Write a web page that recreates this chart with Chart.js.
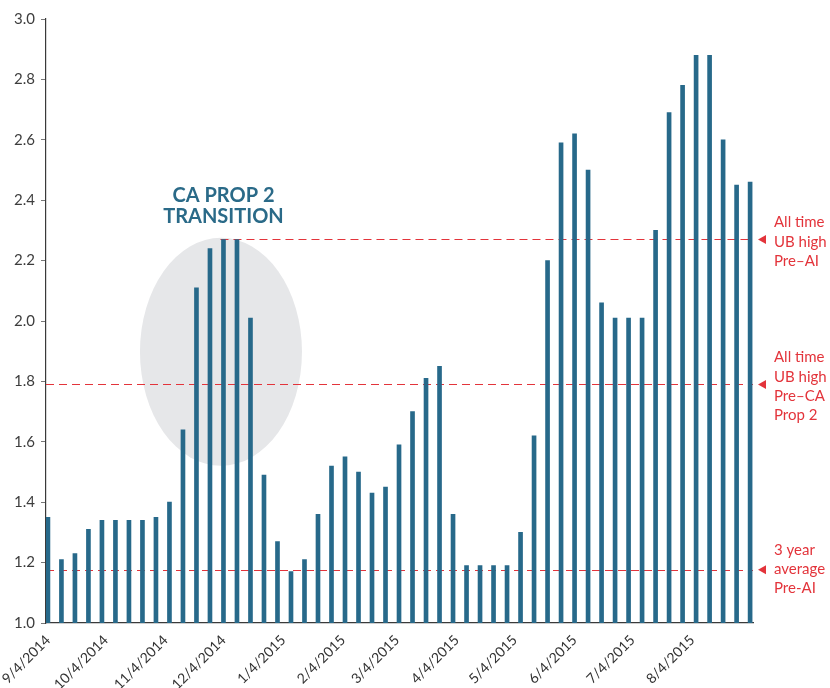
<!DOCTYPE html>
<html>
<head>
<meta charset="utf-8">
<script src="https://cdn.jsdelivr.net/npm/chart.js@4.4.1/dist/chart.umd.min.js"></script>
<style>
  html, body { margin: 0; padding: 0; background: #fff; }
  #wrap { width: 830px; height: 688px; position: relative; }
</style>
</head>
<body>
<div id="wrap"><canvas id="chart"></canvas></div>
<script>
// weekly price points
const weekDates = [
  '9/4/2014', '9/11/2014', '9/18/2014', '9/25/2014',
  '10/2/2014', '10/9/2014', '10/16/2014', '10/23/2014', '10/30/2014',
  '11/6/2014', '11/13/2014', '11/20/2014', '11/27/2014',
  '12/4/2014', '12/11/2014', '12/18/2014', '12/25/2014',
  '1/1/2015', '1/8/2015', '1/15/2015', '1/22/2015', '1/29/2015',
  '2/5/2015', '2/12/2015', '2/19/2015', '2/26/2015',
  '3/5/2015', '3/12/2015', '3/19/2015', '3/26/2015',
  '4/2/2015', '4/9/2015', '4/16/2015', '4/23/2015', '4/30/2015',
  '5/7/2015', '5/14/2015', '5/21/2015', '5/28/2015',
  '6/4/2015', '6/11/2015', '6/18/2015', '6/25/2015',
  '7/2/2015', '7/9/2015', '7/16/2015', '7/23/2015', '7/30/2015',
  '8/6/2015', '8/13/2015', '8/20/2015', '8/27/2015',
  '9/3/2015'
];

const prices = [
  1.35, 1.21, 1.23, 1.31,
  1.34, 1.34, 1.34, 1.34, 1.35,
  1.40, 1.64, 2.11, 2.24,
  2.27, 2.27, 2.01, 1.49,
  1.27, 1.17, 1.21, 1.36, 1.52,
  1.55, 1.50, 1.43, 1.45,
  1.59, 1.70, 1.81, 1.85,
  1.36, 1.19, 1.19, 1.19, 1.19,
  1.30, 1.62, 2.20, 2.59,
  2.62, 2.50, 2.06, 2.01,
  2.01, 2.01, 2.30, 2.69, 2.78,
  2.88, 2.88, 2.60, 2.45,
  2.46
];

const monthLabels = [
  '9/4/2014', '10/4/2014', '11/4/2014', '12/4/2014', '1/4/2015', '2/4/2015',
  '3/4/2015', '4/4/2015', '5/4/2015', '6/4/2015', '7/4/2015', '8/4/2015'
];

const yTicks = [1.0, 1.2, 1.4, 1.6, 1.8, 2.0, 2.2, 2.4, 2.6, 2.8, 3.0];

// reference levels and their notes
const refValues = [2.27, 1.79, 1.176];
const refNotes = [
  ['All time', 'UB high', 'Pre\u2013AI'],
  ['All time', 'UB high', 'Pre\u2013CA', 'Prop 2'],
  ['3 year', 'average', 'Pre-AI']
];

const BAR = '#27698a';
const RED = '#e3343b';

function dayOf(s) {
  const [m, d, y] = s.split('/').map(Number);
  return Date.UTC(y, m - 1, d) / 86400000;
}
const day0 = dayOf(weekDates[0]);
const xDays = weekDates.map(s => dayOf(s) - day0);
const monthDays = monthLabels.map(s => dayOf(s) - day0);

const decorations = {
  id: 'decorations',
  beforeDatasetsDraw(chart) {
    const { ctx, scales: { x, y }, chartArea } = chart;
    // grey ellipse around the transition
    ctx.save();
    ctx.fillStyle = '#e6e7e9';
    ctx.beginPath();
    ctx.ellipse(x.getPixelForValue(89.7), y.getPixelForValue(1.898), 81, 114, 0, 0, Math.PI * 2);
    ctx.fill();

    // dashed reference lines
    ctx.strokeStyle = RED;
    ctx.lineWidth = 1;
    ctx.setLineDash([8, 5]);
    refValues.forEach((v, i) => {
      const py = Math.round(y.getPixelForValue(v)) + 0.5;
      const from = i === 0 ? x.getPixelForValue(xDays[13]) - 3 : chartArea.left;
      ctx.beginPath();
      ctx.moveTo(from, py);
      ctx.lineTo(chartArea.right, py);
      ctx.stroke();
    });
    ctx.restore();
  },
  afterDraw(chart) {
    const { ctx, scales: { x, y }, chartArea } = chart;
    ctx.save();
    // transition label
    ctx.fillStyle = '#2a6a88';
    ctx.font = 'bold 20px Lato';
    ctx.textAlign = 'center';
    ctx.textBaseline = 'middle';
    const cx = x.getPixelForValue(91);
    ctx.fillText('CA PROP 2', cx, 196);
    ctx.fillText('TRANSITION', cx, 217);

    // arrows and notes on the right
    const firstLineOffset = [-17, -27, -20];
    ctx.fillStyle = RED;
    ctx.font = '15px Lato';
    ctx.textAlign = 'left';
    refValues.forEach((v, i) => {
      const py = y.getPixelForValue(v);
      const ax = chartArea.right + 5;
      ctx.beginPath();
      ctx.moveTo(ax, py);
      ctx.lineTo(ax + 8, py - 4.5);
      ctx.lineTo(ax + 8, py + 4.5);
      ctx.closePath();
      ctx.fill();
      refNotes[i].forEach((line, j) => {
        ctx.fillText(line, 774, py + firstLineOffset[i] + j * 19.3);
      });
    });
    ctx.restore();
  }
};

new Chart(document.getElementById('chart'), {
  type: 'bar',
  data: {
    datasets: [{
      data: xDays.map((d, i) => ({ x: d, y: prices[i] })),
      backgroundColor: BAR,
      barThickness: 4
    }]
  },
  options: {
    responsive: true,
    maintainAspectRatio: false,
    animation: false,
    layout: { padding: { top: 19, right: 77, left: 0, bottom: 0 } },
    plugins: { legend: { display: false }, tooltip: { enabled: false } },
    scales: {
      x: {
        type: 'linear',
        offset: false,
        min: -1,
        max: 365.5,
        afterBuildTicks(scale) {
          scale.ticks = monthDays.map(v => ({ value: v }));
        },
        afterFit(scale) {
          scale.height = 65;
          scale.paddingLeft = 0;
          scale.paddingRight = 0;
        },
        grid: { display: true, drawOnChartArea: false, drawTicks: false, offset: false },
        border: { display: true, color: '#3a3a3a', width: 1.2 },
        ticks: {
          autoSkip: false,
          minRotation: 45,
          maxRotation: 45,
          padding: 9,
          color: '#333',
          font: { family: 'Lato', size: 14 },
          callback(value) {
            const k = monthDays.indexOf(value);
            return k >= 0 ? monthLabels[k] : '';
          }
        }
      },
      y: {
        min: 1.0,
        max: 3.0,
        afterBuildTicks(scale) {
          scale.ticks = yTicks.map(v => ({ value: v }));
        },
        afterFit(scale) { scale.width = 46; },
        grid: { drawOnChartArea: false, drawTicks: true, tickLength: 5, color: '#777' },
        border: { display: true, color: '#3a3a3a', width: 1.2 },
        ticks: {
          padding: 6,
          color: '#3d3d3d',
          font: { family: 'Lato', size: 15 },
          callback(value) { return Number(value).toFixed(1); }
        }
      }
    }
  },
  plugins: [decorations]
});
</script>
</body>
</html>
